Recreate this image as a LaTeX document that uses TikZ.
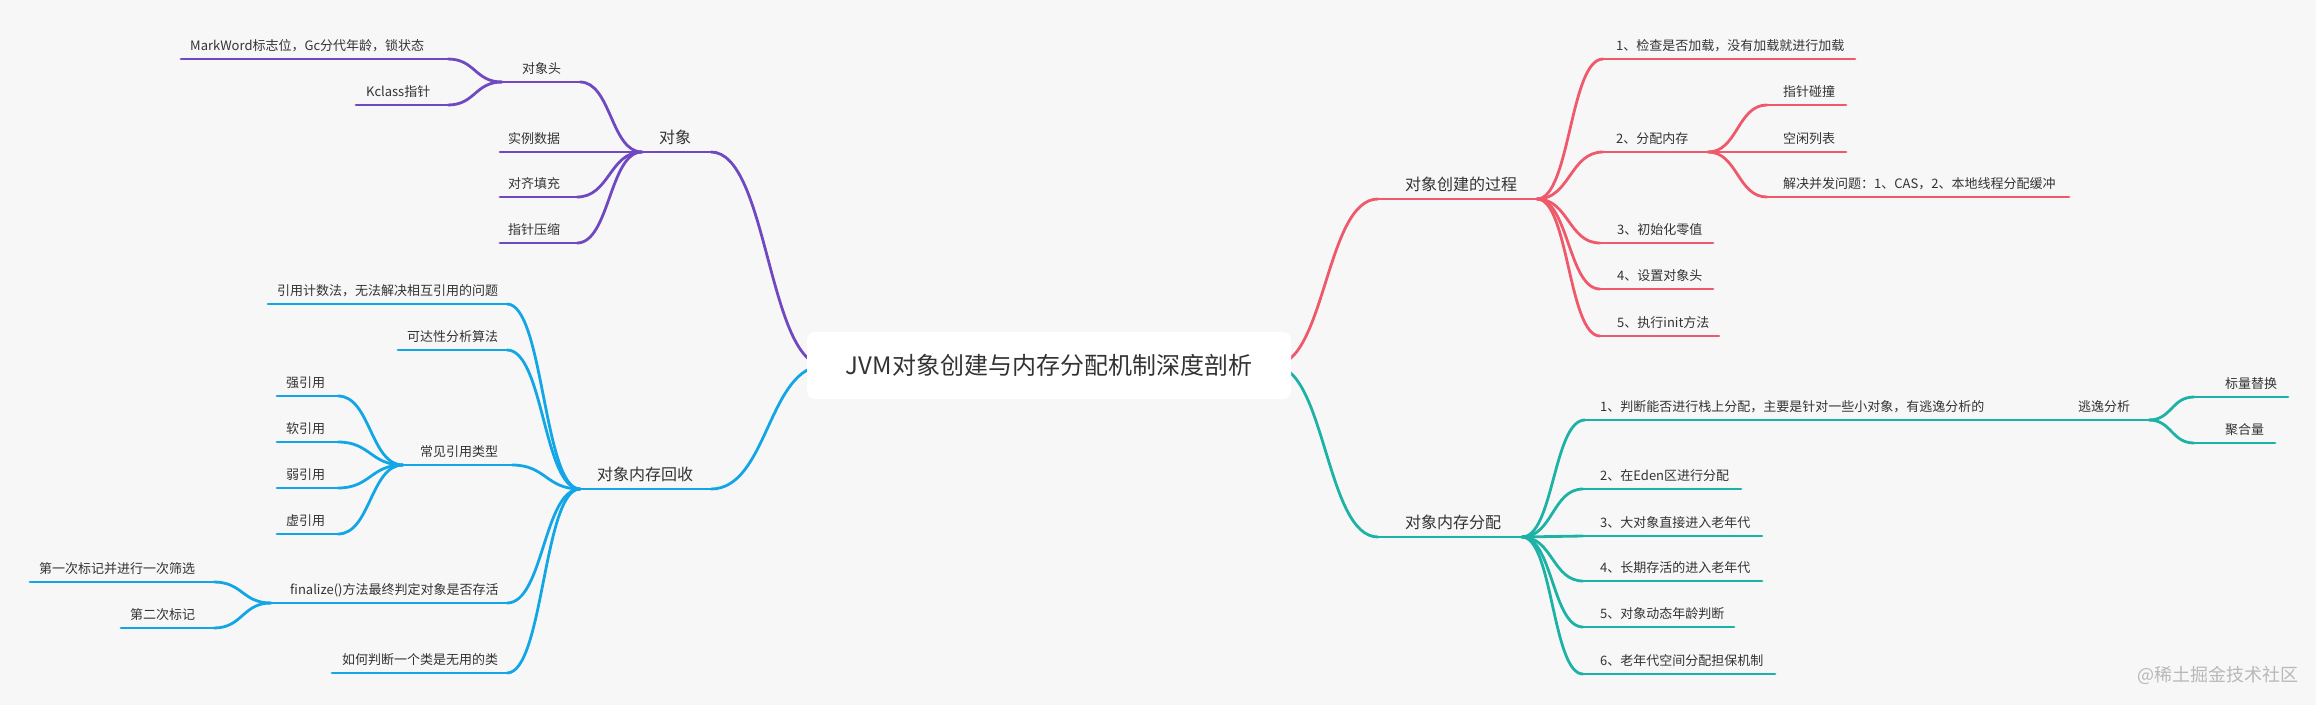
\documentclass[tikz,border=0pt]{standalone}
\usepackage{fontspec}
\setmainfont{Noto Sans CJK SC}
\usetikzlibrary{calc}
\pgfdeclarelayer{lines}
\pgfsetlayers{lines,main}
\definecolor{bgc}{HTML}{F7F7F7}
\definecolor{txt}{HTML}{333333}
\definecolor{cpur}{HTML}{7049C0}
\definecolor{cred}{HTML}{EE5A6B}
\definecolor{cblu}{HTML}{13A6E6}
\definecolor{ctea}{HTML}{1DB2A6}
\definecolor{wm}{HTML}{B8B8B8}
\tikzset{
  mm/.style={to path={let \p1=(\tikztostart), \p2=(\tikztotarget) in
      .. controls ({0.5*\x1+0.5*\x2},\y1) and ({0.5*\x1+0.5*\x2},\y2) .. (\tikztotarget)}},
  branch/.style={line width=2.8pt, line cap=round},
  lab/.style={anchor=base west, inner sep=0pt, text=txt, font=\fontsize{13}{15}\selectfont},
  lab1/.style={lab, font=\fontsize{16}{19}\selectfont},
  rootbox/.style={fill=white, rounded corners=8pt, minimum width=484pt, minimum height=67pt,
      inner sep=0pt, text=txt, font=\fontsize{24}{28}\selectfont},
  wmark/.style={anchor=base west, inner sep=0pt, text=wm, font=\fontsize{18}{21}\selectfont},
}
% #1 name, #2 label style, #3 colour, #4 underline start x, #5 underline end x, #6 underline y, #7 text x, #8 text
\newcommand{\mmt}[8]{%
  \coordinate (#1-a) at (#4,#6);
  \coordinate (#1-b) at (#5,#6);
  \node[#2] (#1) at (#7,#6-8.5) {#8};
  \begin{pgfonlayer}{lines}\draw[branch,draw=#3] (#1-a) -- (#1-b);\end{pgfonlayer}}
% #1 colour, #2 from, #3 to
\newcommand{\mml}[3]{%
  \begin{pgfonlayer}{lines}\draw[branch,draw=#1] (#2) to[mm] (#3);\end{pgfonlayer}}
\begin{document}
\begin{tikzpicture}[x=1pt,y=-1pt]
\useasboundingbox (0,0) rectangle (2316,705);
\begin{pgfonlayer}{lines}\fill[bgc] (0,0) rectangle (2316,705);\end{pgfonlayer}

\node[rootbox] (root) at (1049,365.5) {JVM对象创建与内存分配机制深度剖析};

% ---------- purple: 对象 ----------
\mmt{dx}{lab1}{cpur}{642}{711}{152}{659}{对象}
\mml{cpur}{[xshift=18pt]root.west}{dx-b}
\mmt{dxt}{lab}{cpur}{502}{580}{82}{522}{对象头}
\mmt{sl}{lab}{cpur}{500}{577}{152}{508}{实例数据}
\mmt{dq}{lab}{cpur}{500}{577}{197}{508}{对齐填充}
\mmt{zz}{lab}{cpur}{500}{577}{243}{508}{指针压缩}
\mml{cpur}{dx-a}{dxt-b}
\mml{cpur}{dx-a}{sl-b}
\mml{cpur}{dx-a}{dq-b}
\mml{cpur}{dx-a}{zz-b}
\mmt{mw}{lab}{cpur}{181}{448}{59}{190}{MarkWord标志位，Gc分代年龄，锁状态}
\mmt{kc}{lab}{cpur}{356}{448}{105}{366}{Kclass指针}
\mml{cpur}{dxt-a}{mw-b}
\mml{cpur}{dxt-a}{kc-b}

% ---------- blue: 对象内存回收 ----------
\mmt{hs}{lab1}{cblu}{580}{711}{489}{597}{对象内存回收}
\mml{cblu}{[xshift=18pt]root.west}{hs-b}
\mmt{yy}{lab}{cblu}{268}{507}{304}{277}{引用计数法，无法解决相互引用的问题}
\mmt{kd}{lab}{cblu}{398}{507}{350}{407}{可达性分析算法}
\mmt{cj}{lab}{cblu}{403}{512}{465}{420}{常见引用类型}
\mmt{fz}{lab}{cblu}{271}{507}{603}{290}{finalize()方法最终判定对象是否存活}
\mmt{rh}{lab}{cblu}{332}{507}{673}{342}{如何判断一个类是无用的类}
\mml{cblu}{hs-a}{yy-b}
\mml{cblu}{hs-a}{kd-b}
\mml{cblu}{hs-a}{cj-b}
\mml{cblu}{hs-a}{fz-b}
\mml{cblu}{hs-a}{rh-b}
\mmt{qy}{lab}{cblu}{277}{338}{396}{286}{强引用}
\mmt{ry}{lab}{cblu}{277}{338}{442}{286}{软引用}
\mmt{wy}{lab}{cblu}{277}{338}{488}{286}{弱引用}
\mmt{xy}{lab}{cblu}{277}{338}{534}{286}{虚引用}
\mml{cblu}{cj-a}{qy-b}
\mml{cblu}{cj-a}{ry-b}
\mml{cblu}{cj-a}{wy-b}
\mml{cblu}{cj-a}{xy-b}
\mmt{da}{lab}{cblu}{30}{214}{582}{39}{第一次标记并进行一次筛选}
\mmt{db}{lab}{cblu}{121}{214}{628}{130}{第二次标记}
\mml{cblu}{fz-a}{da-b}
\mml{cblu}{fz-a}{db-b}

% ---------- red: 对象创建的过程 ----------
\mmt{cp}{lab1}{cred}{1378}{1537}{199}{1405}{对象创建的过程}
\mml{cred}{[xshift=-18pt]root.east}{cp-a}
\mmt{ca}{lab}{cred}{1603}{1855}{59}{1616}{1、检查是否加载，没有加载就进行加载}
\mmt{cb}{lab}{cred}{1603}{1708}{152}{1616}{2、分配内存}
\mmt{cc}{lab}{cred}{1600}{1713}{243}{1617}{3、初始化零值}
\mmt{cd}{lab}{cred}{1600}{1713}{289}{1617}{4、设置对象头}
\mmt{ce}{lab}{cred}{1600}{1719}{336}{1617}{5、执行init方法}
\mml{cred}{cp-b}{ca-a}
\mml{cred}{cp-b}{cb-a}
\mml{cred}{cp-b}{cc-a}
\mml{cred}{cp-b}{cd-a}
\mml{cred}{cp-b}{ce-a}
\mmt{pa}{lab}{cred}{1767}{1846}{105}{1783}{指针碰撞}
\mmt{pb}{lab}{cred}{1767}{1846}{152}{1783}{空闲列表}
\mmt{pc}{lab}{cred}{1767}{2069}{197}{1783}{解决并发问题：1、CAS，2、本地线程分配缓冲}
\mml{cred}{cb-b}{pa-a}
\mml{cred}{cb-b}{pb-a}
\mml{cred}{cb-b}{pc-a}

% ---------- teal: 对象内存分配 ----------
\mmt{fp}{lab1}{ctea}{1378}{1522}{537}{1405}{对象内存分配}
\mml{ctea}{[xshift=-18pt]root.east}{fp-a}
\mmt{fa}{lab}{ctea}{1585}{2000}{420}{1600}{1、判断能否进行栈上分配，主要是针对一些小对象，有逃逸分析的}
\mmt{ty}{lab}{ctea}{2065}{2149}{420}{2078}{逃逸分析}
\mml{ctea}{fa-b}{ty-a}
\mmt{bl}{lab}{ctea}{2194}{2288}{397}{2225}{标量替换}
\mmt{jh}{lab}{ctea}{2194}{2275}{443}{2225}{聚合量}
\mml{ctea}{ty-b}{bl-a}
\mml{ctea}{ty-b}{jh-a}
\mmt{fb}{lab}{ctea}{1583}{1741}{489}{1600}{2、在Eden区进行分配}
\mmt{fc}{lab}{ctea}{1583}{1762}{536}{1600}{3、大对象直接进入老年代}
\mmt{fd}{lab}{ctea}{1583}{1762}{581}{1600}{4、长期存活的进入老年代}
\mmt{fe}{lab}{ctea}{1583}{1734}{627}{1600}{5、对象动态年龄判断}
\mmt{ff}{lab}{ctea}{1583}{1775}{674}{1600}{6、老年代空间分配担保机制}
\mml{ctea}{fp-b}{fa-a}
\mml{ctea}{fp-b}{fb-a}
\mml{ctea}{fp-b}{fc-a}
\mml{ctea}{fp-b}{fd-a}
\mml{ctea}{fp-b}{fe-a}
\mml{ctea}{fp-b}{ff-a}

\node[wmark] (wmk) at (2137,681) {@稀土掘金技术社区};
\end{tikzpicture}
\end{document}
